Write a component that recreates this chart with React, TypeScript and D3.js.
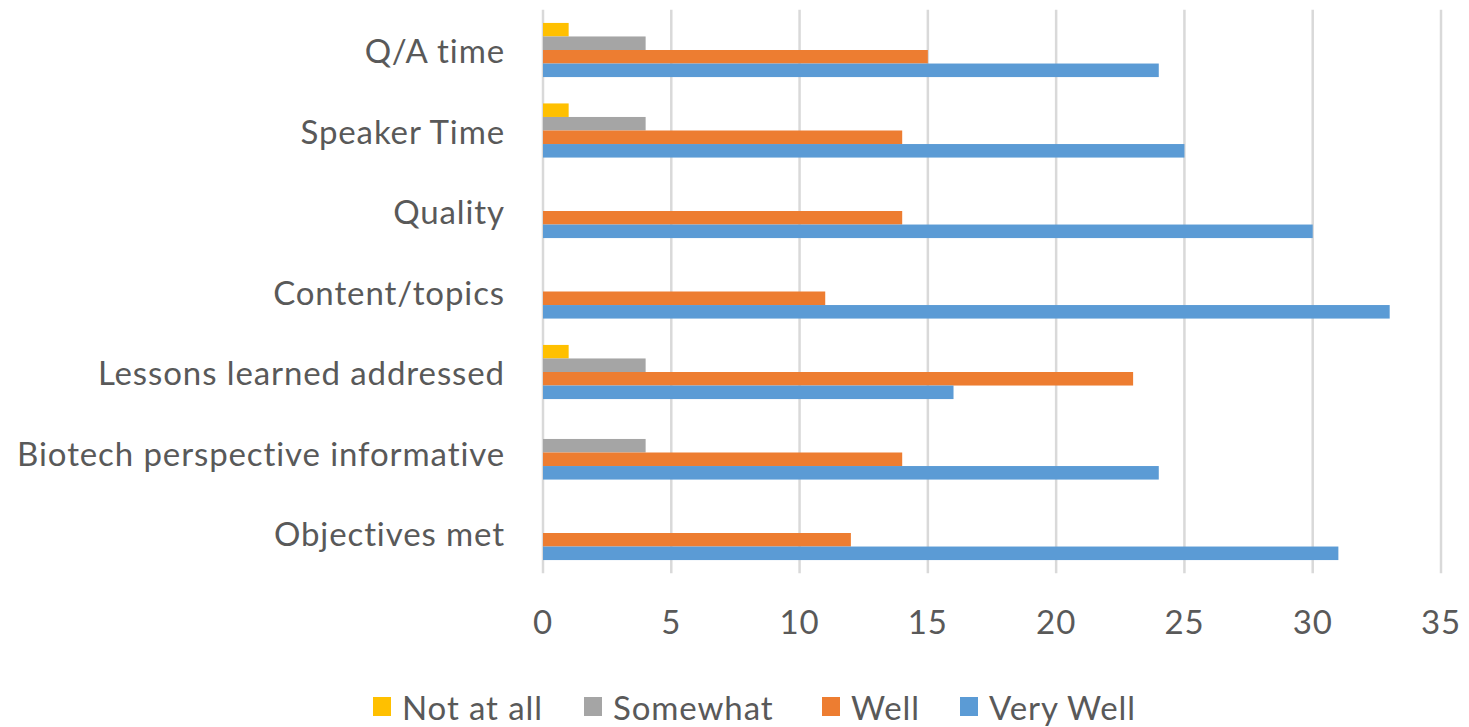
import React from "react";
import * as d3 from "d3";

const categories = [
  "Q/A time",
  "Speaker Time",
  "Quality",
  "Content/topics",
  "Lessons learned addressed",
  "Biotech perspective informative",
  "Objectives met",
];
const seriesNames = ["Not at all", "Somewhat", "Well", "Very Well"];
const notAtAll = [1, 1, 0, 0, 1, 0, 0];
const somewhat = [4, 4, 0, 0, 4, 4, 0];
const well = [15, 14, 14, 11, 23, 14, 12];
const veryWell = [24, 25, 30, 33, 16, 24, 31];
const xTicks = [0, 5, 10, 15, 20, 25, 30, 35];
const colors = ["#FFC000", "#A5A5A5", "#ED7D31", "#5B9BD5"];

const seriesValues = [notAtAll, somewhat, well, veryWell];

const W = 1469;
const H = 727;
const FONT = "Lato, 'Open Sans', sans-serif";
const FS = 33;
const LS = 0.9;

export default function App() {
  const x = d3.scaleLinear().domain([0, 35]).range([543, 1441]);
  const pad = 0.3275;
  const y = d3
    .scaleBand<string>()
    .domain(categories)
    .range([9.75, 573.25])
    .paddingInner(pad)
    .paddingOuter(pad / 2);
  const inner = d3
    .scaleBand<string>()
    .domain(seriesNames)
    .range([0, y.bandwidth()]);

  const legendX = [373, 584, 822, 960];

  return (
    <svg
      width={W}
      height={H}
      style={{ position: "absolute", left: 0, top: 0, display: "block", background: "#fff" }}
    >
      <rect x={0} y={0} width={W} height={H} fill="#fff" />
      {xTicks.map((t) => (
        <line
          key={"g" + t}
          x1={x(t)}
          x2={x(t)}
          y1={y.range()[0]}
          y2={y.range()[1]}
          stroke="#D9D9D9"
          strokeWidth={2.5}
        />
      ))}
      {categories.map((c, ci) => (
        <g key={c}>
          {seriesNames.map((s, si) => {
            const v = seriesValues[si][ci];
            if (!v) return null;
            return (
              <rect
                key={s}
                x={x(0)}
                y={(y(c) as number) + (inner(s) as number)}
                width={x(v) - x(0)}
                height={inner.bandwidth()}
                fill={colors[si]}
              />
            );
          })}
          <text
            x={505}
            y={(y(c) as number) + y.bandwidth() / 2}
            textAnchor="end"
            dominantBaseline="central"
            fontFamily={FONT}
            fontSize={FS}
            letterSpacing={LS}
            fill="#595959"
          >
            {c}
          </text>
        </g>
      ))}
      {xTicks.map((t) => (
        <text
          key={"t" + t}
          x={x(t)}
          y={621}
          textAnchor="middle"
          dominantBaseline="central"
          fontFamily={FONT}
          fontSize={FS}
          letterSpacing={LS}
          fill="#595959"
        >
          {t}
        </text>
      ))}
      {seriesNames.map((s, i) => (
        <g key={"l" + s} transform={`translate(${legendX[i]},0)`}>
          <rect x={0} y={697} width={18} height={19} fill={colors[i]} />
          <text
            x={29}
            y={707}
            dominantBaseline="central"
            fontFamily={FONT}
            fontSize={FS}
            letterSpacing={LS}
            fill="#595959"
          >
            {s}
          </text>
        </g>
      ))}
    </svg>
  );
}
